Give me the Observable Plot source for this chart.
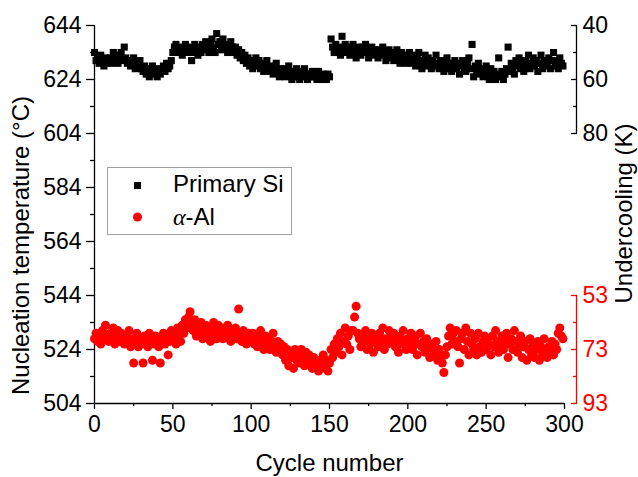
<!DOCTYPE html>
<html><head><meta charset="utf-8">
<script src="https://cdn.jsdelivr.net/npm/d3@7"></script>
<script src="https://cdn.jsdelivr.net/npm/@observablehq/plot@0.6"></script>
<style>
body{margin:0;background:#fff}
#chart svg{font-family:"Liberation Sans",Arial,sans-serif}
</style>
</head><body><div id="chart"></div>
<script>
// Nucleation temperature (°C) per cycle, cycles 0..299
const primarySi = [
634,631,632,630,633,631,629,632,630,631,
632,630,634,633,631,630,632,634,631,636,
632,630,631,629,630,632,628,629,630,631,
628,627,629,626,628,625,627,629,626,628,
625,627,626,628,629,627,630,628,629,631,
634,636,637,635,634,636,633,635,637,634,
636,635,631,634,637,635,633,636,634,637,
635,638,636,634,637,639,636,634,641,637,
638,635,639,636,637,634,635,638,636,634,
636,633,635,632,634,631,633,630,632,629,
631,628,630,632,629,631,628,630,627,629,
631,628,627,629,626,628,630,627,625,628,
626,628,625,627,629,626,624,627,625,628,
626,624,627,625,628,626,624,626,625,627,
625,626,624,627,625,624,626,625,624,626,
625,639,636,634,637,635,636,633,640,635,
637,634,636,633,635,637,634,632,636,635,
633,636,634,637,635,632,634,636,633,635,
634,632,635,633,636,634,631,633,635,632,
634,631,633,635,632,630,634,631,633,630,
632,634,630,633,631,629,632,634,630,628,
631,633,629,632,630,628,631,629,633,630,
628,631,629,627,630,632,628,630,627,629,
631,628,630,626,629,631,628,627,630,632,
628,637,625,629,627,630,626,628,625,627,
629,626,624,628,625,627,624,626,632,625,
627,624,626,628,636,627,630,628,626,631,
629,632,628,630,627,631,629,633,628,630,
632,629,631,627,630,633,628,631,629,630,
632,628,631,634,629,631,628,632,630,629
];
const alphaAl = [
528,530,527,529,526,531,528,533,529,527,
530,528,532,526,529,531,527,530,528,526,
529,527,531,525,528,519,527,530,525,528,
526,519,529,527,525,530,528,520,526,529,
527,525,519,528,530,526,529,522,527,531,
528,530,526,532,529,527,533,530,535,532,
536,538,533,531,535,529,532,530,534,528,
531,533,529,532,527,530,534,531,528,533,
530,532,528,531,529,533,530,527,531,529,
532,528,539,530,527,531,529,526,530,528,
527,530,526,529,525,528,531,527,524,529,
526,528,524,527,530,525,523,527,524,526,
522,525,520,524,518,523,521,517,524,520,
522,519,524,521,518,523,520,522,519,517,
521,518,520,516,519,517,522,518,520,516,
519,524,521,526,523,528,525,530,522,527,
532,526,529,524,531,531,536,540,530,528,
525,529,527,531,524,528,526,530,523,527,
529,525,530,527,532,524,528,526,531,529,
527,530,525,528,523,529,526,531,527,524,
528,526,530,524,527,529,522,526,530,525,
527,523,528,525,521,526,524,522,527,520,
524,521,519,515.5,522,525,529,532,526,530,
527,531,525,519,528,530,524,532,527,522,
530,526,524,528,522,530,525,523,527,529,
524,528,526,522,529,525,531,527,523,526,
529,524,527,530,521,526,528,524,531,527,
523,526,529,521,525,527,520,524,528,522,
526,521,524,527,520,525,522,528,524,521,
525,523,527,522,526,524,530,532,529,528
];
const firstCycle = 0;
const tempTicks = [504, 524, 544, 564, 584, 604, 624, 644];
const tempMinor = [514, 534, 554, 574, 594, 614, 634];
const cycleTicks = [0, 50, 100, 150, 200, 250, 300];
const cycleMinor = [25, 75, 125, 175, 225, 275];
const siLiquidus = 684;   // undercooling = liquidus - T
const alLiquidus = 597;
const siUnderTicks = [40, 60, 80];
const siUnderMinor = [50, 70];
const alUnderTicks = [53, 73, 93];
const alUnderMinor = [63, 83];
const seriesNames = ["Primary Si", "α-Al"];
const seriesColors = ["#000000", "#ff0000"];

const siData = primarySi.map((t, i) => ({cycle: firstCycle + i, t}));
const alData = alphaAl.map((t, i) => ({cycle: firstCycle + i, t}));

const W = 638, H = 477;
const mL = 94, mR = 74, mT = 25, mB = 74;
const tickFont = 23, titleFont = 24;
const axisW = 1.3;

const siT = siUnderTicks.map(u => siLiquidus - u);
const siTm = siUnderMinor.map(u => siLiquidus - u);
const alT = alUnderTicks.map(u => alLiquidus - u);
const alTm = alUnderMinor.map(u => alLiquidus - u);
const rOff = 12;

const plot = Plot.plot({
  width: W, height: H,
  marginLeft: mL, marginRight: mR, marginTop: mT, marginBottom: mB,
  style: {fontFamily: "Liberation Sans, Arial, sans-serif", fontSize: tickFont + "px", color: "#000", background: "#fff", overflow: "visible"},
  x: {domain: [0, 300]},
  y: {domain: [504, 644]},
  marks: [
    Plot.ruleX([0], {stroke: "#000", strokeWidth: axisW}),
    Plot.ruleY([504], {stroke: "#000", strokeWidth: axisW}),
    Plot.axisY(tempTicks, {anchor: "left", tickSize: 8, tickPadding: 5, fontSize: tickFont, label: null, strokeWidth: axisW}),
    Plot.axisY(tempMinor, {anchor: "left", tickSize: 4, text: null, label: null, strokeWidth: axisW}),
    Plot.axisX(cycleTicks, {anchor: "bottom", tickSize: 6, tickPadding: 6, fontSize: tickFont, label: null, strokeWidth: axisW}),
    Plot.axisX(cycleMinor, {anchor: "bottom", tickSize: 3, text: null, label: null, strokeWidth: axisW}),
    // right undercooling axis for primary Si (black)
    Plot.ruleX([300], {y1: d3.min(siT), y2: d3.max(siT), dx: rOff, stroke: "#000", strokeWidth: axisW}),
    Plot.axisY(siT, {anchor: "right", dx: rOff, tickSize: -6, text: null, label: null, strokeWidth: axisW}),
    Plot.axisY(siTm, {anchor: "right", dx: rOff, tickSize: -4, text: null, label: null, strokeWidth: axisW}),
    Plot.axisY(siT, {anchor: "right", dx: rOff, tickSize: 0, tickPadding: 6, fontSize: tickFont, label: null, tickFormat: d => siLiquidus - d}),
    // right undercooling axis for alpha-Al (red)
    Plot.ruleX([300], {y1: d3.min(alT), y2: d3.max(alT), dx: rOff, stroke: "#ff0000", strokeWidth: axisW}),
    Plot.axisY(alT, {anchor: "right", dx: rOff, tickSize: -6, text: null, label: null, color: "#ff0000", strokeWidth: axisW}),
    Plot.axisY(alTm, {anchor: "right", dx: rOff, tickSize: -4, text: null, label: null, color: "#ff0000", strokeWidth: axisW}),
    Plot.axisY(alT, {anchor: "right", dx: rOff, tickSize: 0, tickPadding: 6, fontSize: tickFont, label: null, color: "#ff0000", tickFormat: d => alLiquidus - d}),
    // data
    Plot.dot(siData, {x: "cycle", y: "t", symbol: "square", r: 4, fill: seriesColors[0], stroke: "none"}),
    Plot.dot(alData, {x: "cycle", y: "t", symbol: "circle", r: 4.5, fill: seriesColors[1], stroke: "none"}),
    // axis titles
    Plot.text(["Nucleation temperature (°C)"], {frameAnchor: "left", textAnchor: "middle", lineAnchor: "middle", dx: -73, dy: 31, rotate: -90, fontSize: titleFont, fill: "#000"}),
    Plot.text(["Undercooling (K)"], {frameAnchor: "right", textAnchor: "middle", lineAnchor: "middle", dx: 60, dy: -1, rotate: -90, fontSize: titleFont, fill: "#000"}),
    Plot.text(["Cycle number"], {frameAnchor: "bottom", textAnchor: "middle", lineAnchor: "middle", dy: 60, fontSize: titleFont, fill: "#000"})
  ]
});

// legend
const svg = d3.select(plot);
const lg = svg.append("g").attr("font-size", titleFont).attr("text-anchor", "start")
  .attr("font-family", "Liberation Sans, Arial, sans-serif");
lg.append("rect").attr("x", 107.5).attr("y", 167.5).attr("width", 184).attr("height", 67)
  .attr("fill", "#fff").attr("stroke", "#a0a0a0").attr("stroke-width", 1);
lg.append("rect").attr("x", 134).attr("y", 182).attr("width", 7).attr("height", 7).attr("fill", seriesColors[0]);
lg.append("circle").attr("cx", 137.5).attr("cy", 217).attr("r", 4.5).attr("fill", seriesColors[1]);
lg.append("text").attr("x", 173).attr("y", 192).attr("fill", "#000").text(seriesNames[0]);
const t2 = lg.append("text").attr("x", 173).attr("y", 225).attr("fill", "#000");
t2.append("tspan").attr("font-style", "italic").attr("font-family", "Liberation Serif, serif").text(seriesNames[1].slice(0, 1));
t2.append("tspan").text(seriesNames[1].slice(1));

document.getElementById("chart").appendChild(plot);
</script>
</body></html>
